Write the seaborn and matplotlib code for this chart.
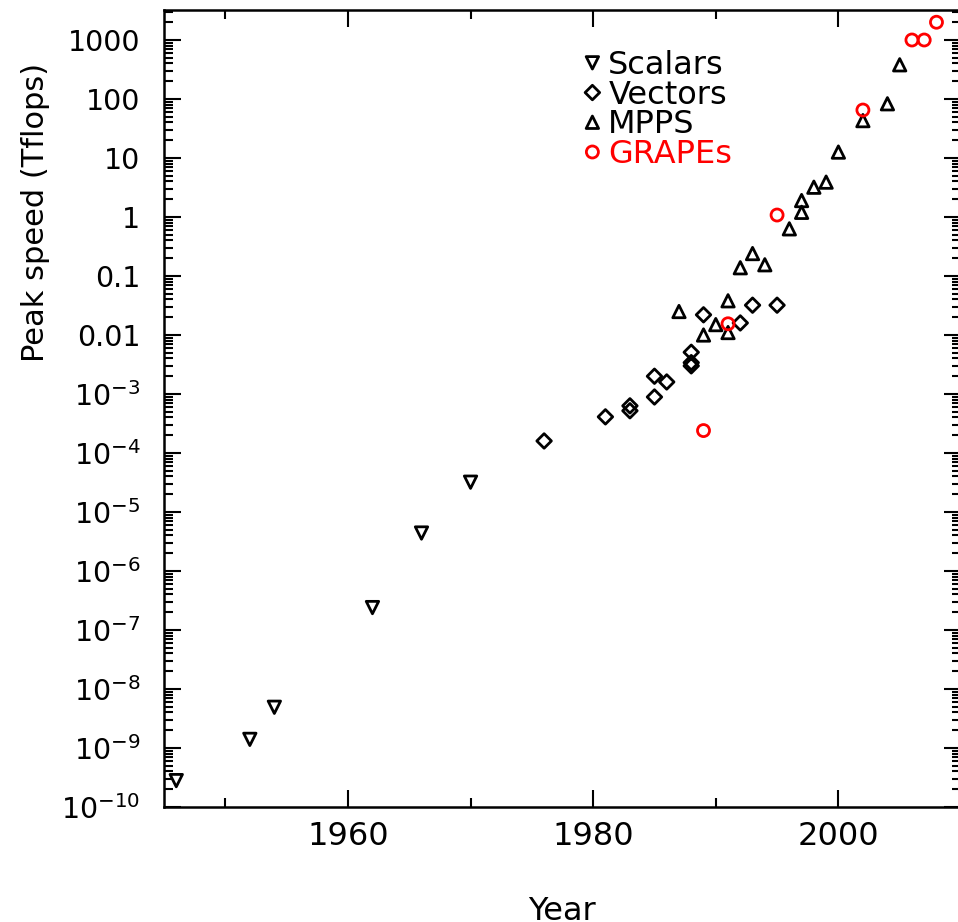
import numpy as np
import pandas as pd
import matplotlib
matplotlib.use("Agg")
import matplotlib.pyplot as plt
import seaborn as sns
from matplotlib.ticker import LogLocator, FixedLocator, NullFormatter

# ---- data ----
scalar_years = [1946, 1952, 1954, 1962, 1966, 1970]
scalar_speed = [2.8e-10, 1.4e-9, 4.9e-9, 2.4e-7, 4.4e-6, 3.2e-5]

vector_years = [1976, 1981, 1983, 1983, 1985, 1985, 1986, 1988, 1988, 1988,
                1989, 1992, 1993, 1995]
vector_speed = [1.6e-4, 4.1e-4, 6.3e-4, 5.2e-4, 8.9e-4, 2.0e-3, 1.6e-3,
                5.1e-3, 3.4e-3, 3.0e-3, 0.022, 0.016, 0.032, 0.032]

mpp_years = [1987, 1989, 1990, 1991, 1991, 1992, 1993, 1994, 1996, 1997,
             1997, 1998, 1999, 2000, 2002, 2004, 2005]
mpp_speed = [0.025, 0.010, 0.015, 0.038, 0.011, 0.138, 0.24, 0.155, 0.63,
             1.2, 1.9, 3.2, 3.9, 12.6, 43, 83, 380]

grape_years = [1989, 1991, 1995, 2002, 2006, 2007, 2008]
grape_speed = [2.4e-4, 0.0155, 1.08, 65, 1000, 1000, 2000]

series_labels = ["Scalars", "Vectors", "MPPS", "GRAPEs"]
series_markers = ["v", "D", "^", "o"]
series_colors = ["black", "black", "black", "red"]

x_major = [1960, 1980, 2000]
x_minor = [1950, 1970, 1990]
y_major = [1e-10, 1e-9, 1e-8, 1e-7, 1e-6, 1e-5, 1e-4, 1e-3, 0.01, 0.1, 1, 10, 100, 1000]
y_labels = [r"$10^{-10}$", r"$10^{-9}$", r"$10^{-8}$", r"$10^{-7}$", r"$10^{-6}$",
            r"$10^{-5}$", r"$10^{-4}$", r"$10^{-3}$", "0.01", "0.1", "1", "10",
            "100", "1000"]

# ---- style ----
sns.set_style("ticks")
plt.rcParams["font.family"] = ["DejaVu Sans"]
plt.rcParams["mathtext.fontset"] = "dejavusans"
plt.rcParams["text.color"] = "black"
plt.rcParams["axes.labelcolor"] = "black"
plt.rcParams["xtick.color"] = "black"
plt.rcParams["ytick.color"] = "black"

fig = plt.figure(figsize=(9.58, 9.22), dpi=100)
ax = fig.add_axes([164 / 958, 1 - 807 / 922, (961 - 164) / 958, (807 - 10.5) / 922])

all_x = [scalar_years, vector_years, mpp_years, grape_years]
all_y = [scalar_speed, vector_speed, mpp_speed, grape_speed]
sizes = [80, 55, 80, 75]
for xs, ys, lab, m, c, s in zip(all_x, all_y, series_labels, series_markers,
                                series_colors, sizes):
    df = pd.DataFrame({"year": xs, "speed": ys})
    sns.scatterplot(data=df, x="year", y="speed", marker=m, s=s,
                    facecolor="none", edgecolor=c, linewidth=2.0,
                    label=lab, ax=ax, zorder=3)

ax.set_yscale("log")
ax.set_xlim(1945, 2010)
ax.set_ylim(1e-10, 10 ** 3.5)

ax.xaxis.set_major_locator(FixedLocator(x_major))
ax.xaxis.set_minor_locator(FixedLocator(x_minor))
ax.set_xticklabels([str(v) for v in x_major])

ax.yaxis.set_major_locator(FixedLocator(y_major))
ax.set_yticklabels(y_labels)
ax.yaxis.set_minor_locator(LogLocator(base=10, subs=np.arange(2, 10), numticks=100))
ax.yaxis.set_minor_formatter(NullFormatter())

ax.tick_params(which="both", direction="in", top=True, right=True,
               width=1.5, color="black", labelcolor="black")
ax.tick_params(which="major", length=12)
ax.tick_params(which="minor", length=6.5)
ax.tick_params(axis="x", which="major", labelsize=23, pad=10)
ax.tick_params(axis="y", which="major", labelsize=20.5, pad=17)

for sp in ax.spines.values():
    sp.set_linewidth(1.8)
    sp.set_color("black")

ax.set_xlabel("Year", fontsize=23, color="black")
ax.xaxis.set_label_coords(0.5, -0.112)
ax.set_ylabel("Peak speed (Tflops)", fontsize=22, color="black")
ax.yaxis.set_label_coords(-0.143, 0.746)

leg = ax.legend(loc="upper left", bbox_to_anchor=((586 - 164) / 797, (807 - 50) / 796.5),
                frameon=False, fontsize=23, handlelength=0.4, handletextpad=0.3,
                labelspacing=-0.04, borderpad=0, borderaxespad=0,
                scatterpoints=1, scatteryoffsets=[0.5])
for t, c in zip(leg.get_texts(), series_colors):
    t.set_color(c)

fig.savefig("out.png", dpi=100)
